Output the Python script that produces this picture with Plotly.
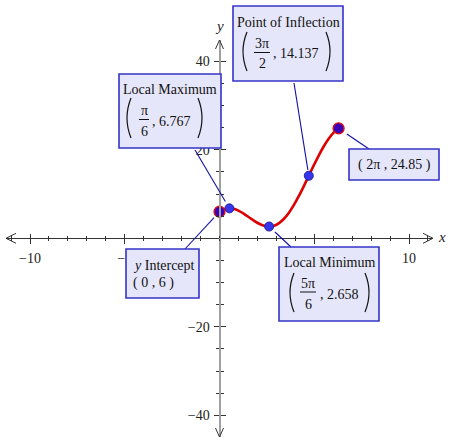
import plotly.graph_objects as go

# ---------------- data ----------------
curve_x = [0, 0.2618, 0.5236, 0.7854, 1.0472, 1.309, 1.5708, 1.8326, 2.0944, 2.3562,
           2.618, 2.8798, 3.1416, 3.4034, 3.6652, 3.927, 4.1888, 4.4506, 4.7124,
           4.9742, 5.236, 5.4978, 5.7596, 6.0214, 6.2832]
curve_y = [6.0, 6.581, 6.767, 6.599, 6.142, 5.480, 4.712, 3.945, 3.283, 2.826,
           2.658, 2.844, 3.425, 4.415, 5.800, 7.538, 9.566, 11.799, 14.137,
           16.476, 18.708, 20.736, 22.475, 23.860, 24.850]
end_x = [0, 6.2832]
end_y = [6.0, 24.85]
crit_x = [0.5236, 2.618, 4.7124]
crit_y = [6.767, 2.658, 14.137]
x_tick_vals = [-10, -5, 5, 10]
x_tick_text = ["\u221210", "\u22125", "", "10"]   # "5" is hidden behind a box in the original
y_tick_vals = [-40, -20, 20, 40]
y_tick_text = ["\u221240", "\u221220", "20", "40"]

# ---------------- geometry helpers ----------------
W, H = 450, 444
X0, XS = 219.5, 18.95      # pixel of x=0, pixels per unit
Y0, YS = 238.3, 4.425      # pixel of y=0, pixels per unit
XL, XR = 6, 433            # x-axis pixel extent (arrow tips)
YT, YB = 40, 437           # y-axis pixel extent (arrow tips)

def px(x):
    return x / W

def py(y):
    return 1 - y / H

def d2px(x):
    return X0 + x * XS

def d2py(y):
    return Y0 - y * YS

SERIF = "Liberation Serif, Times New Roman, serif"
TXT = "#111111"
BOX_FILL = "#e6e6fa"
BOX_LINE = "#3434c8"
LEAD = "#1010a8"

fig = go.Figure()

fig.add_trace(go.Scatter(x=curve_x, y=curve_y, mode="lines",
                         line=dict(color="#dd0000", width=2.6, shape="spline"),
                         hoverinfo="skip", showlegend=False))
fig.add_trace(go.Scatter(x=crit_x, y=crit_y, mode="markers",
                         marker=dict(size=9, color="#3535ee",
                                     line=dict(color="#2222a0", width=1)),
                         hoverinfo="skip", showlegend=False))
fig.add_trace(go.Scatter(x=end_x, y=end_y, mode="markers",
                         marker=dict(size=11, color="#3a00b8",
                                     line=dict(color="#e01010", width=1.3)),
                         hoverinfo="skip", showlegend=False))
# invisible trace so the overlay axes are drawn
fig.add_trace(go.Scatter(x=[0], y=[0], xaxis="x2", yaxis="y2", mode="markers",
                         marker=dict(opacity=0), hoverinfo="skip", showlegend=False))

xr = [(XL - X0) / XS, (XR - X0) / XS]
yr = [(Y0 - YB) / YS, (Y0 - YT) / YS]
xdom = [px(XL), px(XR)]
ydom = [py(YB), py(YT)]

tickfont = dict(family=SERIF, size=14, color="#222222")

common_x = dict(range=xr, domain=xdom, anchor="free", position=py(Y0),
                showgrid=False, zeroline=False, tickvals=x_tick_vals,
                ticklen=4.5, tickwidth=1, tickcolor="#333333",
                minor=dict(ticks="outside", ticklen=2, dtick=1, tick0=0,
                           tickcolor="#333333", tickwidth=1, showgrid=False),
                fixedrange=True)
common_y = dict(range=yr, domain=ydom, anchor="free", position=px(X0),
                showgrid=False, zeroline=False, tickvals=y_tick_vals,
                ticklen=5, tickwidth=1, tickcolor="#333333",
                minor=dict(ticks="outside", ticklen=3, dtick=5, tick0=0,
                           tickcolor="#333333", tickwidth=1, showgrid=False),
                fixedrange=True)

fig.update_layout(
    width=W, height=H, margin=dict(l=0, r=0, t=0, b=0),
    paper_bgcolor="white", plot_bgcolor="white", showlegend=False,
    xaxis=dict(**common_x, side="bottom", ticks="outside", showline=True,
               linecolor="#333333", linewidth=1, ticktext=x_tick_text,
               tickfont=tickfont, ticklabelstandoff=2),
    xaxis2=dict(**common_x, overlaying="x", side="top", ticks="outside",
                showline=False, showticklabels=False),
    yaxis=dict(**common_y, side="left", ticks="outside", showline=True,
               linecolor="#a0a0a0", linewidth=2, ticktext=y_tick_text,
               tickfont=tickfont, ticklabelstandoff=1),
    yaxis2=dict(**common_y, overlaying="y", side="right", ticks="outside",
                showline=False, showticklabels=False),
)

shapes = []
annots = []

# axis arrowheads (open chevrons)
def chevron(tip, a, b):
    return dict(type="path", xref="paper", yref="paper", layer="above",
                path=f"M {px(a[0])} {py(a[1])} L {px(tip[0])} {py(tip[1])} L {px(b[0])} {py(b[1])}",
                line=dict(color="#333333", width=1))

shapes.append(chevron((XL, Y0), (XL + 10, Y0 - 5), (XL + 10, Y0 + 5)))
shapes.append(chevron((XR, Y0), (XR - 10, Y0 - 5), (XR - 10, Y0 + 5)))
shapes.append(chevron((X0, YT), (X0 - 4, YT + 9), (X0 + 4, YT + 9)))
shapes.append(chevron((X0, YB), (X0 - 4, YB - 9), (X0 + 4, YB - 9)))

annots.append(dict(text="<i>x</i>", x=px(442), y=py(Y0 - 1), xref="paper", yref="paper",
                   xanchor="center", yanchor="middle",
                   showarrow=False, font=dict(family=SERIF, size=15, color="#222")))
annots.append(dict(text="<i>y</i>", x=px(X0), y=py(26), xref="paper", yref="paper",
                   xanchor="center", yanchor="middle",
                   showarrow=False, font=dict(family=SERIF, size=15, color="#222")))

def box(x0, y0, x1, y1):
    shapes.append(dict(type="rect", xref="paper", yref="paper", layer="above",
                       x0=px(x0), x1=px(x1), y0=py(y1), y1=py(y0),
                       fillcolor=BOX_FILL, line=dict(color=BOX_LINE, width=1.6)))

def text(t, x, y, xanchor="center", size=14):
    annots.append(dict(text=t, x=px(x), y=py(y), xref="paper", yref="paper",
                       xanchor=xanchor, yanchor="middle", showarrow=False,
                       font=dict(family=SERIF, size=size, color=TXT)))

def paren(xc, yt, yb, left=True):
    s = 1 if left else -1
    ym = (yt + yb) / 2
    path = (f"M {px(xc + 3 * s)} {py(yt)} Q {px(xc - 5 * s)} {py(ym)} "
            f"{px(xc + 3 * s)} {py(yb)}")
    shapes.append(dict(type="path", xref="paper", yref="paper", layer="above",
                       path=path, line=dict(color=TXT, width=1.2)))

def frac_bar(xa, xb, y):
    shapes.append(dict(type="line", xref="paper", yref="paper", layer="above",
                       x0=px(xa), x1=px(xb), y0=py(y), y1=py(y),
                       line=dict(color=TXT, width=1)))

def leader(bx, by, dx, dy, gap=6):
    # from box pixel (bx, by) to a data point (dx, dy), stopping short of the marker
    ex, ey = d2px(dx), d2py(dy)
    vx, vy = bx - ex, by - ey
    n = (vx * vx + vy * vy) ** 0.5
    ex2, ey2 = ex + vx / n * gap, ey + vy / n * gap
    shapes.append(dict(type="line", xref="paper", yref="paper", layer="above",
                       x0=px(bx), y0=py(by), x1=px(ex2), y1=py(ey2),
                       line=dict(color=LEAD, width=1.1)))

# leader lines
leader(195, 150, crit_x[0], crit_y[0], gap=8)
leader(294, 83, crit_x[2], crit_y[2], gap=6)
leader(369, 149, end_x[1], end_y[1], gap=10)
leader(185, 249, end_x[0], end_y[0], gap=8)
leader(291, 247, crit_x[1], crit_y[1], gap=8)

# Local Maximum
box(119, 74, 221, 148)
text("Local Maximum", 170, 89)
paren(128, 98, 138, True)
paren(201, 98, 138, False)
text("\u03c0", 144, 110)
frac_bar(139, 149, 119.5)
text("6", 144, 131)
text(", 6.767", 150, 121, xanchor="left")

# Point of Inflection
box(233, 6, 343, 81)
text("Point of Inflection", 288, 22)
paren(244, 32, 71, True)
paren(329, 32, 71, False)
text("3\u03c0", 262, 43)
frac_bar(254, 270, 52.5)
text("2", 262, 63)
text(", 14.137", 271, 53, xanchor="left")

# Local Minimum
box(279, 247, 379, 321)
text("Local Minimum", 329, 262)
paren(291, 273, 312, True)
paren(368, 273, 312, False)
text("5\u03c0", 308, 283)
frac_bar(300, 316, 292)
text("6", 308, 304)
text(", 2.658", 318, 294, xanchor="left")

# End point
box(349, 149, 439, 180)
text("( 2\u03c0 , 24.85 )", 394, 165)

# y intercept
box(126, 249, 199, 298)
text("<i>y</i> Intercept", 131, 265, xanchor="left")
text("( 0 , 6 )", 131, 283, xanchor="left")

fig.update_layout(shapes=shapes, annotations=annots)

fig.write_html("out.html", config={"displayModeBar": False},
               post_script="document.body.style.margin='0px';")
